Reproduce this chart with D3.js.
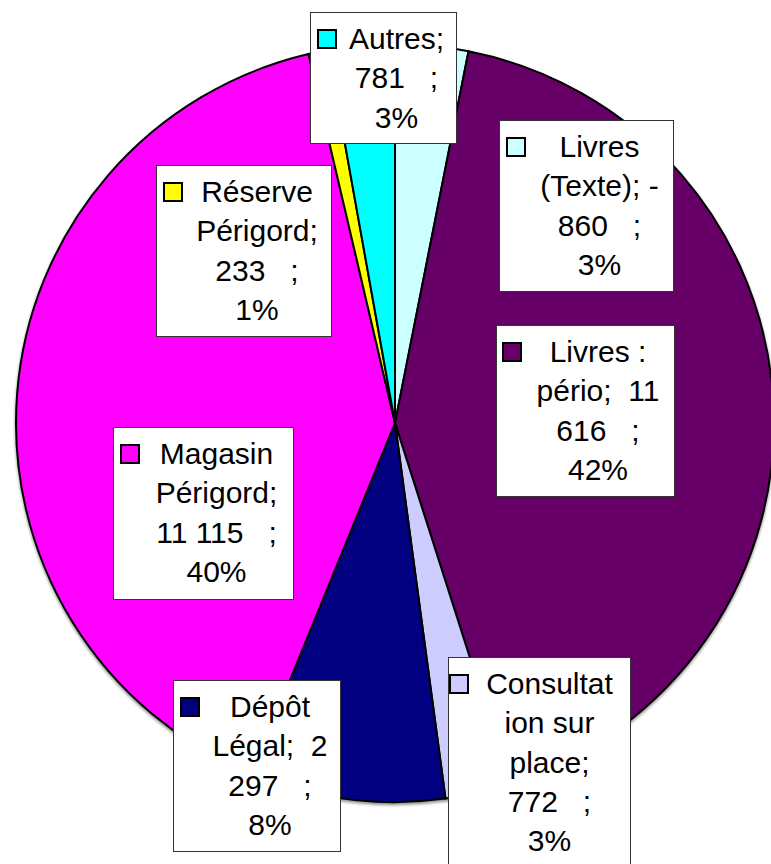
<!DOCTYPE html>
<html>
<head>
<meta charset="utf-8">
<script src="https://cdn.jsdelivr.net/npm/d3@7"></script>
<style>
  html, body { margin: 0; padding: 0; background: #fff; }
  svg { display: block; }
  text { font-family: "Liberation Sans", Arial, sans-serif; }
</style>
</head>
<body>
<svg id="chart" width="771" height="864"></svg>
<script>
// Categories, clockwise from 12 o'clock
const categories = [
  "Livres (Texte)",
  "Livres : pério",
  "Consultation sur place",
  "Dépôt Légal",
  "Magasin Périgord",
  "Réserve Périgord",
  "Autres"
];
const values = [860, 11616, 772, 2297, 11115, 233, 781];
const colors = ["#CCFFFF", "#660066", "#CCCCFF", "#000080", "#FF00FF", "#FFFF00", "#00FFFF"];

// Wrapped data-label text for each category
const labelLines = [
  ["Livres", "(Texte); -", "860   ;", "3%"],
  ["Livres :", "pério;  11", "616   ;", "42%"],
  ["Consultat", "ion sur", "place;", "772   ;", "3%"],
  ["Dépôt", "Légal;  2", "297   ;", "8%"],
  ["Magasin", "Périgord;", "11 115   ;", "40%"],
  ["Réserve", "Périgord;", "233   ;", "1%"],
  ["Autres;", "781   ;", "3%"]
];

// Label box placement: [x, y, width, height, key offset from left]
const labelBoxes = [
  [499, 120, 174, 171, 7],
  [496, 325, 178, 171, 6],
  [448, 657, 182, 215, 1],
  [173, 680, 167, 171, 7],
  [113, 427, 180, 172, 7],
  [156, 165, 175, 171, 7],
  [310, 12, 146, 131, 7]
];

const W = 771, H = 864;
const cx = 395, cy = 423, R = 379;

const svg = d3.select("#chart");
svg.append("rect").attr("width", W).attr("height", H).attr("fill", "#fff");

const data = categories.map((c, i) => ({ name: c, value: values[i], color: colors[i], i }));

const pie = d3.pie().sort(null).value(d => d.value).startAngle(0).endAngle(2 * Math.PI);
const arc = d3.arc().innerRadius(0).outerRadius(R);

const g = svg.append("g").attr("transform", `translate(${cx},${cy})`);

// soft shadow under the disc
const defs = svg.append("defs");
const f = defs.append("filter").attr("id", "shadow").attr("x", "-10%").attr("y", "-10%").attr("width", "120%").attr("height", "120%");
f.append("feGaussianBlur").attr("in", "SourceAlpha").attr("stdDeviation", 1.5).attr("result", "b");
f.append("feOffset").attr("in", "b").attr("dx", 0).attr("dy", 2).attr("result", "o");
f.append("feComponentTransfer").attr("in", "o").attr("result", "s")
  .append("feFuncA").attr("type", "linear").attr("slope", 0.45);
const m = f.append("feMerge");
m.append("feMergeNode").attr("in", "s");
m.append("feMergeNode").attr("in", "SourceGraphic");

const slices = g.append("g").attr("filter", "url(#shadow)");
slices.selectAll("path")
  .data(pie(data))
  .join("path")
  .attr("d", arc)
  .attr("fill", d => d.data.color)
  .attr("stroke", "#000")
  .attr("stroke-width", 2)
  .attr("stroke-linejoin", "round");

// Data labels with legend keys
const FS = 30, LH = 39.3, KEY = 20;
const labels = svg.append("g");
data.forEach((d, i) => {
  const [bx, by, bw, bh, kdx] = labelBoxes[i];
  const lg = labels.append("g");
  lg.append("rect")
    .attr("x", bx + 0.5).attr("y", by + 0.5)
    .attr("width", bw).attr("height", bh)
    .attr("fill", "#fff").attr("stroke", "#333").attr("stroke-width", 1);
  lg.append("rect")
    .attr("x", bx + kdx + 1).attr("y", by + 18)
    .attr("width", KEY - 2).attr("height", KEY - 2)
    .attr("fill", d.color).attr("stroke", "#000").attr("stroke-width", 2);
  const tx = (bx + kdx + KEY + bx + bw) / 2;
  labelLines[i].forEach((line, j) => {
    lg.append("text")
      .attr("x", tx)
      .attr("y", by + 37 + j * LH)
      .attr("text-anchor", "middle")
      .attr("font-size", FS)
      .attr("fill", "#000")
      .style("white-space", "pre")
      .text(line);
  });
});
</script>
</body>
</html>
